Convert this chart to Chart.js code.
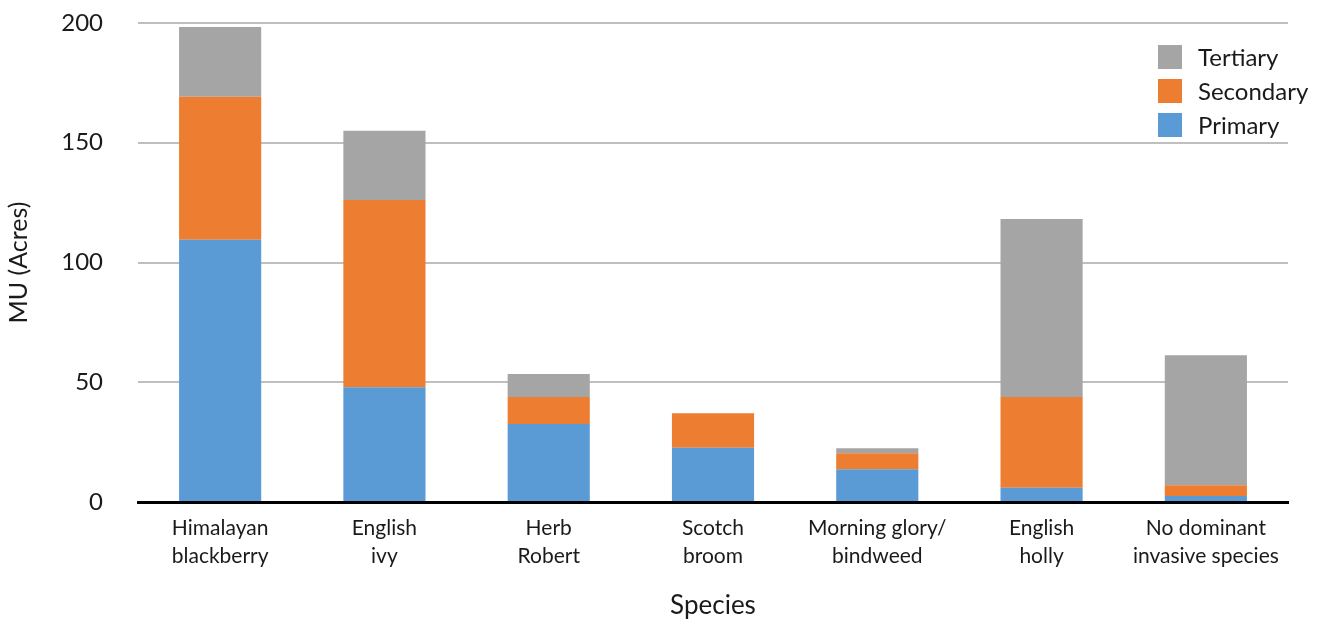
<!DOCTYPE html>
<html>
<head>
<meta charset="utf-8">
<script src="https://cdn.jsdelivr.net/npm/chart.js@4/dist/chart.umd.min.js"></script>
<style>
  html, body { margin: 0; padding: 0; background: #fff; }
  #wrap { width: 1324px; height: 621px; position: relative; }
</style>
</head>
<body>
<div id="wrap"><canvas id="c" width="1324" height="621"></canvas></div>
<script>
// Invasive species management units by priority class (acres)
const species = [
  ['Himalayan', 'blackberry'],
  ['English', 'ivy'],
  ['Herb', 'Robert'],
  ['Scotch', 'broom'],
  ['Morning glory/', 'bindweed'],
  ['English', 'holly'],
  ['No dominant', 'invasive species']
];
const primary   = [109.5, 47.9, 32.6, 22.6, 13.7, 5.9, 2.5];
const secondary = [59.7, 78.2, 11.2, 14.5, 6.7, 37.9, 4.5];
const tertiary  = [29.1, 28.9, 9.6, 0, 2.0, 74.4, 54.3];
const yTicks = [0, 50, 100, 150, 200];

const FONT = 'Lato, "Open Sans", sans-serif';
const TEXT = '#1a1a1a';

// Legend drawn inside the plot area, top-right, in reverse stacking order
const insideLegend = {
  id: 'insideLegend',
  afterDraw(chart) {
    const ctx = chart.ctx;
    const items = chart.data.datasets.slice().reverse();
    const x0 = 1158, y0 = 57, step = 34, box = 24;
    ctx.save();
    ctx.font = '24px ' + FONT;
    ctx.textBaseline = 'middle';
    ctx.textAlign = 'left';
    items.forEach((ds, i) => {
      const cy = y0 + i * step;
      ctx.fillStyle = ds.backgroundColor;
      ctx.fillRect(x0, cy - box / 2, box, box);
      ctx.fillStyle = TEXT;
      ctx.fillText(ds.label, x0 + 40, cy + 1);
    });
    ctx.restore();
  }
};

new Chart(document.getElementById('c'), {
  type: 'bar',
  data: {
    labels: species,
    datasets: [
      { label: 'Primary',   data: primary,   backgroundColor: '#5B9BD5' },
      { label: 'Secondary', data: secondary, backgroundColor: '#ED7D31' },
      { label: 'Tertiary',  data: tertiary,  backgroundColor: '#A5A5A5' }
    ]
  },
  options: {
    responsive: false,
    animation: false,
    devicePixelRatio: 1,
    layout: { padding: { top: 23, right: 36, left: 0, bottom: 0 } },
    datasets: { bar: { categoryPercentage: 1, barPercentage: 0.5, borderWidth: 0 } },
    plugins: {
      legend: { display: false },
      tooltip: { enabled: false }
    },
    scales: {
      x: {
        stacked: true,
        grid: { display: false, drawTicks: false },
        border: { display: true, color: '#000', width: 3 },
        ticks: {
          color: TEXT,
          font: { family: FONT, size: 21, lineHeight: 1.33 },
          padding: 12,
          maxRotation: 0,
          autoSkip: false
        },
        title: {
          display: true,
          text: 'Species',
          color: TEXT,
          font: { family: FONT, size: 26 },
          padding: { top: 10, bottom: 0 }
        },
        afterFit(axis) { axis.height = 119; }
      },
      y: {
        stacked: true,
        min: 0,
        max: 200,
        afterBuildTicks(axis) { axis.ticks = yTicks.map(v => ({ value: v })); },
        grid: {
          color: ctx => (ctx.tick && ctx.tick.value === 0) ? 'rgba(0,0,0,0)' : '#BFBFBF',
          lineWidth: 2,
          drawTicks: false
        },
        border: { display: false },
        ticks: {
          color: TEXT,
          font: { family: FONT, size: 24 },
          padding: 35
        },
        title: {
          display: true,
          text: 'MU (Acres)',
          color: TEXT,
          font: { family: FONT, size: 25 },
          padding: { top: 4, bottom: 0 }
        },
        afterFit(axis) {
          axis.width = 138;
          // keep the label gap from inflating the plot's top/bottom margins
          axis.paddingTop = 14;
          axis.paddingBottom = 14;
        }
      }
    }
  },
  plugins: [insideLegend]
});
</script>
</body>
</html>
